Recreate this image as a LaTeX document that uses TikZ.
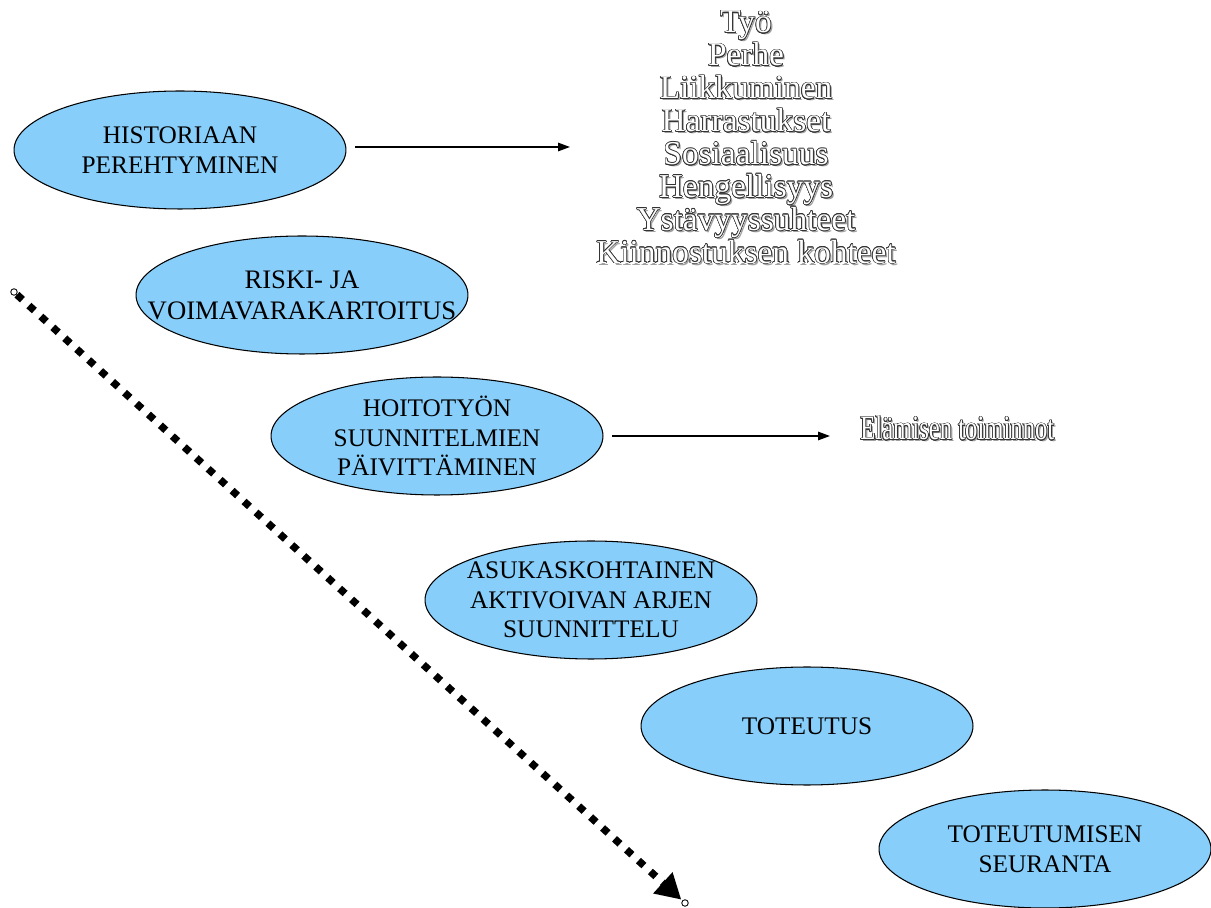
\documentclass[tikz,border=0pt]{standalone}
\usepackage{fontspec}
\setmainfont{Liberation Serif}
\newfontfamily\condensedserif[FakeStretch=0.72]{Liberation Serif}
\usepackage{contour}
\contourlength{0.35pt}
\usetikzlibrary{arrows.meta, shapes.geometric}

\definecolor{bubblefill}{RGB}{135,206,250}
\definecolor{shadowgray}{RGB}{160,160,160}

% white letters with a dark rim and a grey shadow
\newcommand{\hollowtext}[1]{%
  \makebox[0pt][l]{\kern1.1pt\raisebox{-1.1pt}{\textcolor{shadowgray}{#1}}}%
  \contour{black!80}{\textcolor{white}{#1}}}

\tikzset{
  phase/.style={ellipse, draw=black, line width=0.6pt, fill=bubblefill,
    minimum width=6.64cm, minimum height=2.36cm, inner xsep=-1cm, inner ysep=-0.3cm,
    align=center, font=\fontsize{14.4}{16.8}\selectfont},
  flow/.style={-{Triangle[length=2.4mm,width=1.7mm]}, line width=0.8pt},
  listword/.style={anchor=base, inner sep=0pt, font=\fontsize{19}{19}\selectfont},
  progress/.style={-{Triangle[length=5mm,width=5.4mm]}, line width=4.2pt,
    dash pattern=on 4.2pt off 5pt},
  enddot/.style={circle, draw=black, fill=white, line width=0.5pt,
    minimum size=0.13cm, inner sep=0pt},
}

\begin{document}
\begin{tikzpicture}[x=0.02cm, y=-0.02cm]
  \useasboundingbox (0,0) rectangle (1211,908);

  % Phases
  \node[phase] (hist) at (180,150) {HISTORIAAN\\PEREHTYMINEN};
  \node[phase, font=\fontsize{15.2}{17.6}\selectfont] (riski) at (302,295) {RISKI- JA\\VOIMAVARAKARTOITUS};
  \node[phase] (hoito) at (437,436) {HOITOTYÖN\\SUUNNITELMIEN\\PÄIVITTÄMINEN};
  \node[phase] (asukas) at (591,600) {ASUKASKOHTAINEN\\AKTIVOIVAN ARJEN\\SUUNNITTELU};
  \node[phase] (toteutus) at (807,726) {TOTEUTUS};
  \node[phase] (seuranta) at (1045,849) {TOTEUTUMISEN\\SEURANTA};

  % Areas of life
  \foreach \w [count=\i] in {Työ, Perhe, Liikkuminen, Harrastukset, Sosiaalisuus,
      Hengellisyys, Ystävyyssuhteet, Kiinnostuksen kohteet}
    \node[listword] (area\i) at (746, {33+32.9*(\i-1)}) {\hollowtext{\w}};

  \node[anchor=base west, inner sep=0pt, font=\condensedserif\fontsize{19.5}{19.5}\selectfont]
    (life) at (860,440) {\hollowtext{Elämisen toiminnot}};

  % Arrows to the lists
  \coordinate (histto) at (570,147);
  \coordinate (hoitoto) at (830,436);
  \draw[flow, shorten <=0.18cm] (hist.east |- histto) -- (histto);
  \draw[flow, shorten <=0.18cm] (hoito.east) -- (hoitoto);

  % Progress arrow
  \coordinate (start) at (14,292);
  \coordinate (finish) at (685,903);
  \draw[progress, shorten <=0.08cm, shorten >=0.1cm] (start) -- (finish);
  \node[enddot] (startdot) at (start) {};
  \node[enddot] (finishdot) at (finish) {};
\end{tikzpicture}
\end{document}
